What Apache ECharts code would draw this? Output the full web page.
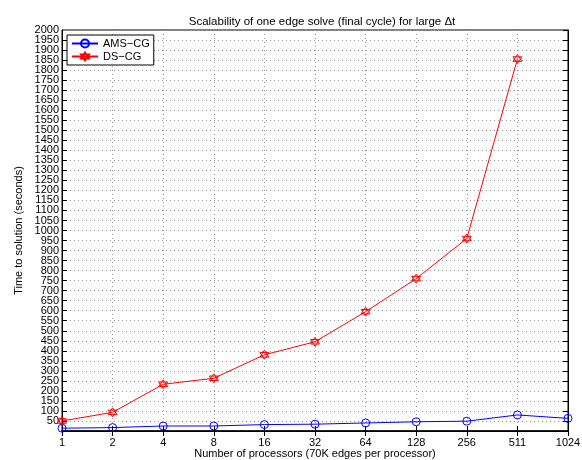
<!DOCTYPE html>
<html>
<head>
<meta charset="utf-8">
<script src="https://cdn.jsdelivr.net/npm/echarts@6/dist/echarts.min.js"></script>
<style>
  html, body { margin: 0; padding: 0; background: #fff; }
  #chart { width: 582px; height: 460px; }
</style>
</head>
<body>
<div id="chart"></div>
<script>
// processors (x categories)
var procs = ['1', '2', '4', '8', '16', '32', '64', '128', '256', '511', '1024']
// time to solution (seconds)
var amsCG = [14, 17, 25, 25, 32, 34, 40, 46, 49, 80, 63]
var dsCG = [50, 93, 233, 263, 380, 445, 595, 760, 960, 1855]

var fontFam = 'Liberation Sans, Arial, sans-serif'
// star of david marker
var hexagram = 'path://M0,-10L8.66,5L-8.66,5Z M0,10L8.66,-5L-8.66,-5Z'

var chart = echarts.init(document.getElementById('chart'))
chart.setOption({
  animation: false,
  textStyle: { fontFamily: fontFam },
  title: {
    text: 'Scalability of one edge solve (final cycle) for large \u0394t',
    left: 317,
    textAlign: 'center',
    top: 11,
    textStyle: { fontSize: 11.5, fontWeight: 'normal', color: '#000', fontFamily: fontFam }
  },
  legend: {
    left: 67,
    top: 35,
    orient: 'vertical',
    backgroundColor: '#fff',
    borderColor: '#000',
    borderWidth: 1,
    borderRadius: 0,
    padding: [3, 4, 3, 4],
    itemGap: 2,
    itemWidth: 26,
    itemHeight: 10,
    textStyle: { fontSize: 11, color: '#000', fontFamily: fontFam }
  },
  grid: {
    left: 62,
    right: 14,
    top: 30,
    bottom: 29,
    outerBoundsMode: 'none',
    show: true,
    borderColor: '#000',
    borderWidth: 1
  },
  xAxis: [
    {
      type: 'category',
      data: procs,
      boundaryGap: false,
      name: 'Number of processors (70K edges per processor)',
      nameLocation: 'middle',
      nameGap: 17,
      nameMoveOverlap: false,
      nameTextStyle: { fontSize: 11, color: '#000', verticalAlign: 'top' },
      axisLine: { lineStyle: { color: '#000', width: 1.5 } },
      axisTick: { inside: true, length: 5, lineStyle: { color: '#000' } },
      axisLabel: { fontSize: 11, color: '#000', margin: 6 },
      splitLine: { show: true, lineStyle: { color: '#999', type: [1, 3] } }
    },
    {
      type: 'category',
      data: procs,
      boundaryGap: false,
      position: 'top',
      axisLine: { lineStyle: { color: '#000' } },
      axisTick: { inside: true, length: 5, lineStyle: { color: '#000' } },
      axisLabel: { show: false },
      splitLine: { show: false }
    }
  ],
  yAxis: [
    {
      type: 'value',
      min: 0,
      max: 2000,
      interval: 50,
      name: 'Time to solution (seconds)',
      nameLocation: 'middle',
      nameGap: 38,
      nameMoveOverlap: false,
      nameTextStyle: { fontSize: 11, color: '#000' },
      axisLine: { show: true, lineStyle: { color: '#000' } },
      axisTick: { show: true, inside: true, length: 5, lineStyle: { color: '#000' } },
      axisLabel: {
        fontSize: 11,
        color: '#000',
        margin: 3,
        showMaxLabel: false,
        formatter: function (v) { return v === 0 ? '' : v }
      },
      splitLine: { show: true, lineStyle: { color: '#999', type: [1, 3] } }
    },
    {
      type: 'value',
      min: 0,
      max: 2000,
      interval: 50,
      position: 'right',
      axisLine: { show: true, lineStyle: { color: '#000' } },
      axisTick: { show: true, inside: true, length: 5, lineStyle: { color: '#000' } },
      axisLabel: { show: false },
      splitLine: { show: false }
    },
    {
      // only carries the top "2000" label
      type: 'value',
      min: 0,
      max: 2000,
      interval: 50,
      position: 'left',
      axisLine: { show: false },
      axisTick: { show: false },
      axisLabel: {
        fontSize: 11,
        color: '#000',
        margin: 3,
        showMaxLabel: true,
        formatter: function (v) { return v === 2000 ? '2000' : '' }
      },
      splitLine: { show: false }
    }
  ],
  series: [
    {
      name: 'AMS\u2212CG',
      type: 'line',
      data: amsCG,
      symbol: 'circle',
      symbolSize: 8,
      showAllSymbol: true,
      clip: false,
      lineStyle: { color: '#0000ff', width: 1 },
      itemStyle: { color: 'rgba(255,255,255,0)', borderColor: '#0000ff', borderWidth: 1 }
    },
    {
      name: 'DS\u2212CG',
      type: 'line',
      data: dsCG,
      symbol: hexagram,
      symbolSize: 9,
      showAllSymbol: true,
      clip: false,
      lineStyle: { color: '#ff0000', width: 1 },
      itemStyle: { color: 'rgba(255,255,255,0)', borderColor: '#ff0000', borderWidth: 1 }
    }
  ]
})
</script>
</body>
</html>
